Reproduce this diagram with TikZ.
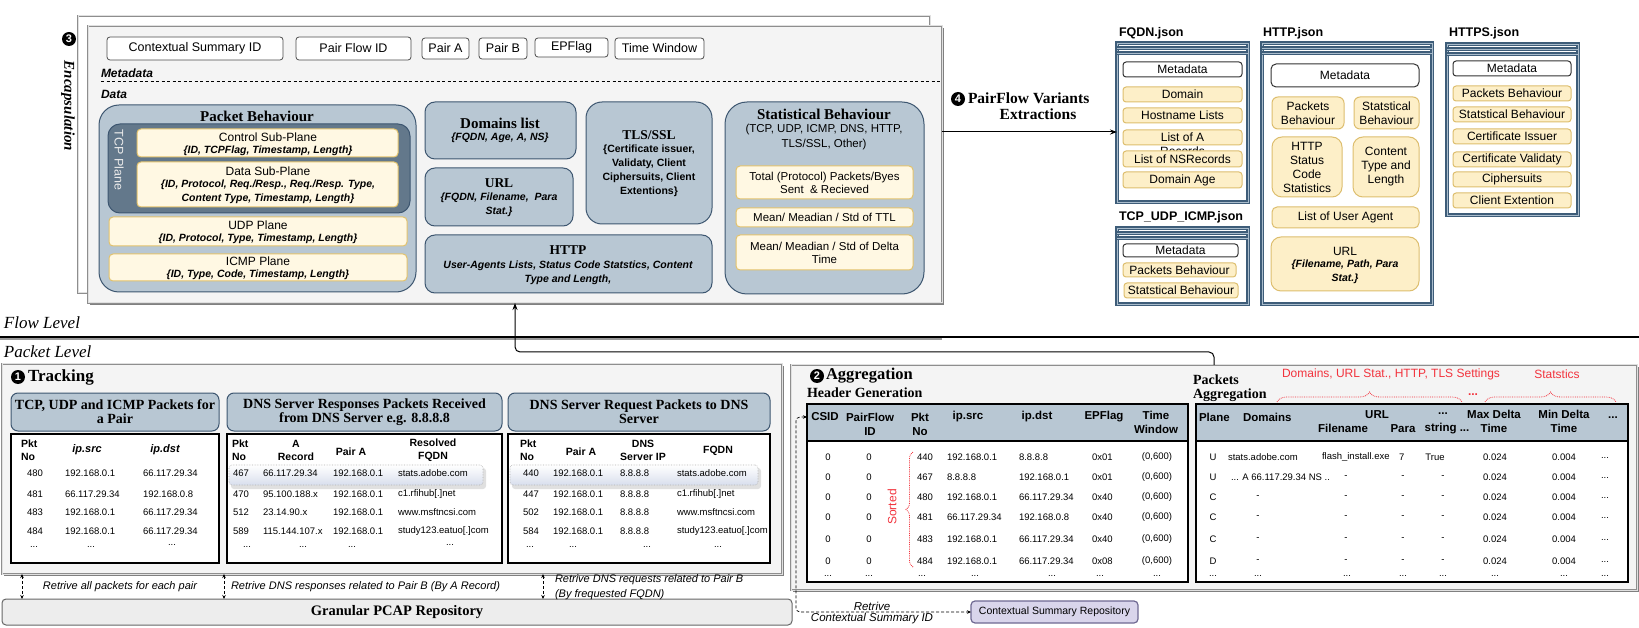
\documentclass[tikz,border=0pt]{standalone}
\usepackage{fontspec}
\setmainfont{Liberation Serif}
\setsansfont{Liberation Sans}
\usetikzlibrary{arrows.meta,decorations.pathreplacing}

\definecolor{bluegray}{HTML}{B8C7D3}
\definecolor{blueedge}{HTML}{3D5670}
\definecolor{tcpdark}{HTML}{63788B}
\definecolor{creamfill}{HTML}{FFF8E3}
\definecolor{creamedge}{HTML}{E2C26C}
\definecolor{itemfill}{HTML}{FDEFC8}
\definecolor{itemedge}{HTML}{DDBE6E}
\definecolor{panelfill}{HTML}{F4F4F4}
\definecolor{paneledge}{HTML}{8E8E8E}
\definecolor{jsonedge}{HTML}{3E5D79}
\definecolor{jsonmid}{HTML}{A9BCCC}
\definecolor{notered}{HTML}{F2333D}
\definecolor{lavfill}{HTML}{D9D5EB}
\definecolor{lavedge}{HTML}{6F6992}
\definecolor{repofill}{HTML}{EDEDED}

\newcommand\fz[2]{\fontsize{#1}{#2}\selectfont}
\newcommand\tksb{\rmfamily\bfseries}
\newcommand\tkbi{\sffamily\bfseries\itshape}
\newcommand\tkss{\sffamily}
% box node from corner (x1,y1) to (x2,y2): \bx[style]{name}{x1}{y1}{x2}{y2}{text}
\newcommand\bx[7][]{\node[#1,minimum width={(#5)-(#3)},minimum height={(#6)-(#4)}] (#2) at ({((#3)+(#5))/2},{((#4)+(#6))/2}) {#7};}

\tikzset{
  paneldouble/.style={draw=paneledge,double=black!12,double distance=1pt,line width=0.9pt},
  metabox/.style={draw=black!70,fill=white,rounded corners=3pt,line width=0.8pt,font=\tkss\fz{12.5}{14}},
  bluebox/.style={draw=blueedge,fill=bluegray,line width=1pt},
  tcpbox/.style={draw=blueedge,fill=tcpdark,line width=1pt,rounded corners=12pt},
  creambox/.style={draw=creamedge,fill=creamfill,line width=1pt,rounded corners=4pt},
  jsonbox/.style={draw=jsonedge,double=jsonmid,double distance=0.9pt,line width=1.2pt},
  itembox/.style={draw=itemedge,fill=itemfill,line width=1pt,rounded corners=3pt,font=\tkss\fz{12}{14},align=center},
  jmeta/.style={draw=black!80,fill=white,line width=1pt,rounded corners=3pt,font=\tkss\fz{12}{14}},
  hdbox/.style={draw=blueedge,fill=bluegray,line width=1pt,rounded corners=7pt,font=\tksb\fz{14}{14},align=center},
  tblbox/.style={draw=black,fill=white,line width=1.3pt},
  band/.style={draw=black,fill=bluegray,line width=1.3pt},
  hl/.style={rounded corners=3pt,top color=white,bottom color=blue!8!bluegray!45,draw=black!30,densely dotted,line width=0.6pt},
  hlshadow/.style={rounded corners=3pt,fill=black!12},
  cell/.style={font=\tkss\fz{9.5}{11}},
  colhd/.style={font=\tkss\bfseries\fz{10.5}{13},align=center},
  aghd/.style={font=\tkss\bfseries\fz{11.5}{14},align=center},
  sub/.style={font=\tkbi\fz{10.5}{14},align=center},
  plain/.style={font=\tkss\fz{12}{14},align=center},
  numc/.style={circle,fill=black,text=white,minimum size=14pt,font=\tkss\bfseries\fz{11}{11}},
  retr/.style={densely dashed,line width=0.7pt,{Stealth[length=4pt,width=3.5pt]}-{Stealth[length=4pt,width=3.5pt]}},
  retlab/.style={font=\tkss\itshape\fz{11}{15.5},align=left},
  redbrace/.style={draw=notered,densely dotted,line width=0.8pt,decorate,decoration={brace,amplitude=10pt}},
  redtxt/.style={text=notered,font=\tkss\fz{12}{14}},
}

\begin{document}
\begin{tikzpicture}[x=1pt,y=-1pt,every node/.style={inner sep=0pt,outer sep=0pt}]
\useasboundingbox (0,0) rectangle (1639,628);
\fill[white] (0,0) rectangle (1639,628);

% ===================== Flow level: encapsulation =====================
\bx[paneldouble,fill=white]{backframe}{78}{16}{930}{293}{}
\fill[black!50] (90,28) rectangle (944,305);
\bx[paneldouble,fill=panelfill]{encap}{88}{26}{942}{303}{}

\node[numc] (n3) at (69,39) {3};
\node[rotate=-90,font=\tksb\itshape\fz{15}{15}] (enclab) at (68,106) {Encapsulation};

% metadata fields
\bx[metabox]{csid}{107}{37}{283}{60}{Contextual Summary ID}
\bx[metabox]{pfid}{296}{37}{411}{60}{Pair Flow ID}
\bx[metabox]{paira}{422}{38}{469}{59}{Pair A}
\bx[metabox]{pairb}{479}{38}{527}{59}{Pair B}
\bx[metabox]{epf}{535}{38}{608}{57}{EPFlag}
\bx[metabox]{twin}{615}{38}{704}{59}{Time Window}
\node[anchor=west,font=\tkbi\fz{12}{12}] (mdlab) at (101,73) {Metadata};
\draw[dash pattern=on 3pt off 2.5pt,line width=0.8pt] (mdlab.south west |- 0,81) coordinate (dl) -- (encap.east |- dl);
\node[anchor=west,font=\tkbi\fz{12}{12}] (dlab) at (101,94) {Data};

% packet behaviour
\bx[bluebox,rounded corners=20pt]{pbeh}{99}{105}{416}{292}{}
\node[font=\tksb\fz{15}{15}] (pbehlab) at (257,116) {Packet Behaviour};
\bx[tcpbox]{tcp}{108}{124}{410}{213}{}
\node[rotate=-90,text=black!8,font=\tkss\fz{12.5}{14}] (tcplab) at (119,160) {TCP Plane};
\bx[creambox]{ctrl}{137}{129}{398}{157}{}
\node[plain] (ctrl1) at (268,137) {Control Sub-Plane};
\node[sub] (ctrl2) at (268,151) {\{ID, TCPFlag, Timestamp, Length\}};
\bx[creambox]{dsp}{137}{162}{398}{207}{}
\node[plain] (dsp1) at (268,171) {Data Sub-Plane};
\node[sub] (dsp2) at (268,192) {\{ID, Protocol, Req./Resp., Req./Resp. Type,\\Content Type, Timestamp, Length\}};
\bx[creambox]{udp}{109}{217}{407}{246}{}
\node[plain] (udp1) at (258,225) {UDP Plane};
\node[sub] (udp2) at (258,239) {\{ID, Protocol, Type, Timestamp, Length\}};
\bx[creambox]{icmp}{109}{254}{407}{281}{}
\node[plain] (icmp1) at (258,261) {ICMP Plane};
\node[sub] (icmp2) at (258,275) {\{ID, Type, Code, Timestamp, Length\}};

% domains, URL, TLS, HTTP
\bx[bluebox,rounded corners=10pt]{doml}{425}{102}{576}{159}{}
\node[font=\tksb\fz{15}{15}] (doml1) at (500,123) {Domains list};
\node[sub] (doml2) at (500,138) {\{FQDN, Age, A, NS\}};
\bx[bluebox,rounded corners=10pt]{urlb}{425}{168}{573}{226}{}
\node[font=\tksb\fz{13.5}{14}] (url1) at (499,183) {URL};
\node[sub] (url2) at (499,205) {\{FQDN, Filename,\ \ Para\\Stat.\}};
\bx[bluebox,rounded corners=16pt]{tls}{586}{102}{712}{224}{}
\node[font=\tksb\fz{13.5}{14}] (tls1) at (649,135) {TLS/SSL};
\node[font=\tkss\bfseries\fz{10.5}{14},align=center] (tls2) at (649,171) {\{Certificate issuer,\\Validaty, Client\\Ciphersuits, Client\\Extentions\}};
\bx[bluebox,rounded corners=10pt]{httpb}{425}{235}{712}{293}{}
\node[font=\tksb\fz{13.5}{14}] (http1) at (568,250) {HTTP};
\node[font=\tkbi\fz{10.5}{14},align=center] (http2) at (568,273) {User-Agents Lists, Status Code Statstics, Content\\Type and Length,};

% statistical behaviour
\bx[bluebox,rounded corners=22pt]{stat}{725}{102}{924}{294}{}
\node[font=\tksb\fz{15}{15}] (stat1) at (824,114) {Statistical Behaviour};
\node[font=\tkss\fz{11.5}{15},align=center] (stat2) at (824,137) {(TCP, UDP, ICMP, DNS, HTTP,\\TLS/SSL, Other)};
\bx[creambox,font=\tkss\fz{11.5}{13},align=center]{stata}{736}{166}{913}{199}{Total (Protocol) Packets/Byes\\Sent \ \& Recieved}
\bx[creambox,font=\tkss\fz{11.5}{13},align=center]{statb}{736}{208}{913}{227}{Mean/ Meadian / Std of TTL}
\bx[creambox,font=\tkss\fz{11.5}{13},align=center]{statc}{736}{235}{913}{270}{Mean/ Meadian / Std of Delta\\Time}

% ===================== PairFlow variants (JSON) =====================
% FQDN.json
\node[anchor=west,font=\tkss\bfseries\fz{12.5}{14}] (fqt) at (1119,33) {FQDN.json};
\bx[jsonbox]{fqdn}{1117}{43}{1248}{202}{}
\draw[jsonbox] ([yshift=-5pt]fqdn.north west) -- ([yshift=-5pt]fqdn.north east);
\draw[jsonbox] ([yshift=-10pt]fqdn.north west) -- ([yshift=-10pt]fqdn.north east);
\bx[jmeta]{fqmeta}{1123}{62}{1242}{77}{Metadata}
\bx[itembox]{fqdom}{1123}{87}{1242}{102}{Domain}
\bx[itembox]{fqhost}{1123}{108}{1242}{123}{Hostname Lists}
\bx[itembox]{fqa}{1123}{130}{1242}{145}{}
\node[font=\tkss\fz{12}{14},align=center] (fqatxt) at (1182.5,144) {List of A\\Records};
\bx[itembox]{fqns}{1123}{151}{1242}{167}{List of NSRecords}
\bx[itembox]{fqage}{1123}{172}{1242}{188}{Domain Age}

% TCP_UDP_ICMP.json
\node[anchor=west,font=\tkss\bfseries\fz{12.5}{14}] (tut) at (1119,217) {TCP\_UDP\_ICMP.json};
\bx[jsonbox]{tui}{1117}{228}{1248}{304}{}
\draw[jsonbox] ([yshift=-5pt]tui.north west) -- ([yshift=-5pt]tui.north east);
\draw[jsonbox] ([yshift=-10pt]tui.north west) -- ([yshift=-10pt]tui.north east);
\bx[jmeta]{tuimeta}{1123}{244}{1238}{257}{Metadata}
\bx[itembox]{tuipb}{1123}{263}{1236}{277}{Packets Behaviour}
\bx[itembox]{tuisb}{1124}{283}{1238}{298}{Statstical Behaviour}

% HTTP.json
\node[anchor=west,font=\tkss\bfseries\fz{12.5}{14}] (htt) at (1263,33) {HTTP.json};
\bx[jsonbox]{httpj}{1262}{43}{1432}{304}{}
\draw[jsonbox] ([yshift=-5pt]httpj.north west) -- ([yshift=-5pt]httpj.north east);
\draw[jsonbox] ([yshift=-10pt]httpj.north west) -- ([yshift=-10pt]httpj.north east);
\bx[jmeta,rounded corners=5pt]{htmeta}{1271}{64}{1419}{87}{Metadata}
\bx[itembox,rounded corners=6pt]{htpb}{1272}{97}{1344}{129}{Packets\\Behaviour}
\bx[itembox,rounded corners=6pt]{htsb}{1354}{97}{1419}{129}{Statstical\\Behaviour}
\bx[itembox,rounded corners=10pt]{htsc}{1272}{137}{1342}{197}{HTTP\\Status\\Code\\Statistics}
\bx[itembox,rounded corners=10pt]{htct}{1353}{137}{1419}{197}{Content\\Type and\\Length}
\bx[itembox,rounded corners=5pt]{htua}{1272}{207}{1419}{228}{List of User Agent}
\bx[itembox,rounded corners=10pt]{hturl}{1271}{237}{1419}{291}{}
\node[plain] (hturl1) at (1345,251) {URL};
\node[sub] (hturl2) at (1345,272) {\{Filename, Path, Para\\Stat.\}};

% HTTPS.json
\node[anchor=west,font=\tkss\bfseries\fz{12.5}{14}] (hst) at (1449,33) {HTTPS.json};
\bx[jsonbox]{httpsj}{1447}{44}{1578}{215}{}
\draw[jsonbox] ([yshift=-5pt]httpsj.north west) -- ([yshift=-5pt]httpsj.north east);
\draw[jsonbox] ([yshift=-10pt]httpsj.north west) -- ([yshift=-10pt]httpsj.north east);
\bx[jmeta]{hsmeta}{1453}{61}{1571}{76}{Metadata}
\bx[itembox]{hspb}{1453}{86}{1571}{101}{Packets Behaviour}
\bx[itembox]{hssb}{1453}{107}{1571}{122}{Statstical Behaviour}
\bx[itembox]{hsci}{1453}{129}{1571}{144}{Certificate Issuer}
\bx[itembox]{hscv}{1453}{152}{1571}{167}{Certificate Validaty}
\bx[itembox]{hscs}{1453}{172}{1571}{187}{Ciphersuits}
\bx[itembox]{hsce}{1453}{193}{1571}{208}{Client Extention}

% extraction arrow
\coordinate (ax) at (945,132);
\draw[line width=1pt,-{Stealth[length=7pt,width=5pt]}] (encap.east |- ax) -- (fqdn.west |- ax);
\node[numc] (n4) at (958,99) {4};
\node[anchor=west,font=\tksb\fz{15.5}{16}] (ext1) at (968,98) {PairFlow Variants};
\node[font=\tksb\fz{15.5}{16}] (ext2) at (1038,114) {Extractions};

% ===================== level separator =====================
\node[anchor=west,font=\rmfamily\itshape\fz{17}{17}] (flowlab) at (4,323) {Flow Level};
\draw[black!40,line width=2pt] (0,339.5) -- (942,339.5);
\draw[black,line width=1.2pt] (0,337) -- (1639,337);
\node[anchor=west,font=\rmfamily\itshape\fz{17}{17}] (pktlab) at (4,352) {Packet Level};

% ===================== Packet level: tracking =====================
\fill[black!50] (4,366) rectangle (784,576);
\bx[paneldouble,fill=panelfill]{track}{2}{364}{782}{574}{}
\node[numc] (n1) at (18,377) {1};
\node[anchor=west,font=\tksb\fz{17}{17}] (tracklab) at (28,377) {Tracking};

\bx[hdbox]{h1}{11}{393}{219}{431}{TCP, UDP and ICMP Packets for\\a Pair}
\bx[hdbox]{h2}{227}{393}{502}{431}{DNS Server Responses Packets Received\\from DNS Server e.g. 8.8.8.8}
\bx[hdbox]{h3}{508}{393}{770}{431}{DNS Server Request Packets to DNS\\Server}
\bx[tblbox]{t1}{11}{434}{219}{563}{}
\bx[tblbox]{t2}{227}{434}{502}{563}{}
\bx[tblbox]{t3}{508}{434}{770}{563}{}
\bx[hlshadow]{hl2s}{231}{468}{486}{489}{}
\bx[hlshadow]{hl3s}{512}{468}{761}{489}{}
\bx[hl]{hl2}{229}{465}{483}{485}{}
\bx[hl]{hl3}{510}{465}{758}{485}{}

% table 1
\node[colhd,align=left,anchor=west] (t1h1) at (21,450) {Pkt\\No};
\node[font=\tkbi\fz{11}{13}] (t1h2) at (87,450) {ip.src};
\node[font=\tkbi\fz{11}{13}] (t1h3) at (165,450) {ip.dst};
\foreach \yy/\a/\b/\c [count=\i] in {473/480/192.168.0.1/66.117.29.34,494/481/66.117.29.34/192.168.0.8,512/483/192.168.0.1/66.117.29.34,531/484/192.168.0.1/66.117.29.34}{
  \node[cell] (t1p\i) at (35,\yy) {\a};
  \node[cell,anchor=west] (t1s\i) at (65,\yy) {\b};
  \node[cell,anchor=west] (t1d\i) at (143,\yy) {\c};
}
\node[cell] (t1x1) at (34,547) {...};
\node[cell] (t1x2) at (91,547) {...};
\node[cell] (t1x3) at (172,545) {...};

% table 2
\node[colhd,align=left,anchor=west] (t2h1) at (232,450) {Pkt\\No};
\node[colhd] (t2h2) at (296,450) {A\\Record};
\node[colhd] (t2h3) at (351,452) {Pair A};
\node[colhd] (t2h4) at (433,450) {Resolved\\FQDN};
\foreach \yy/\a/\b/\c/\d [count=\i] in {473/467/66.117.29.34/192.168.0.1/stats.adobe.com,494/470/95.100.188.x/192.168.0.1/{c1.rfihub[.]net},512/512/23.14.90.x/192.168.0.1/www.msftncsi.com,531/589/115.144.107.x/192.168.0.1/{study123.eatuo[.]com}}{
  \node[cell,anchor=west] (t2p\i) at (233,\yy) {\a};
  \node[cell,anchor=west] (t2a\i) at (263,\yy) {\b};
  \node[cell,anchor=west] (t2b\i) at (333,\yy) {\c};
  \node[cell,anchor=west] (t2f\i) at (398,\yy) {\d};
}
\node[cell] (t2x1) at (247,547) {...};
\node[cell] (t2x2) at (303,547) {...};
\node[cell] (t2x3) at (352,547) {...};
\node[cell] (t2x4) at (450,545) {...};

% table 3
\node[colhd,align=left,anchor=west] (t3h1) at (520,450) {Pkt\\No};
\node[colhd] (t3h2) at (581,452) {Pair A};
\node[colhd] (t3h3) at (643,450) {DNS\\Server IP};
\node[colhd] (t3h4) at (718,451) {FQDN};
\foreach \yy/\a/\d [count=\i] in {473/440/stats.adobe.com,494/447/{c1.rfihub[.]net},512/502/www.msftncsi.com,531/584/{study123.eatuo[.]com}}{
  \node[cell,anchor=west] (t3p\i) at (523,\yy) {\a};
  \node[cell,anchor=west] (t3a\i) at (553,\yy) {192.168.0.1};
  \node[cell,anchor=west] (t3s\i) at (620,\yy) {8.8.8.8};
  \node[cell,anchor=west] (t3f\i) at (677,\yy) {\d};
}
\node[cell] (t3x1) at (530,547) {...};
\node[cell] (t3x2) at (573,547) {...};
\node[cell] (t3x3) at (647,547) {...};
\node[cell] (t3x4) at (718,547) {...};

% repository and retrieval links
\bx[draw=black!60,fill=repofill,rounded corners=4pt,line width=1pt]{repo}{2}{599}{792}{625}{}
\node[font=\tksb\fz{14.5}{15}] (repolab) at (397,612) {Granular PCAP Repository};
\coordinate (rA) at (22,0);
\coordinate (rB) at (224,0);
\coordinate (rC) at (543,0);
\draw[retr] (track.south -| rA) -- (repo.north -| rA);
\draw[retr] (track.south -| rB) -- (repo.north -| rB);
\draw[retr] (track.south -| rC) -- (repo.north -| rC);
\node[retlab] (rl1) at (120,587) {Retrive all packets for each pair};
\node[retlab,anchor=west] (rl2) at (231,587) {Retrive DNS responses related to Pair B (By A Record)};
\node[retlab,anchor=west] (rl3) at (555,587) {Retrive DNS requests related to Pair B\\ (By frequested FQDN)};

% ===================== Packet level: aggregation =====================
\fill[black!50] (793,367) rectangle (1639,592);
\bx[paneldouble,fill=panelfill]{agg}{791}{365}{1637}{590}{}
\node[numc] (n2) at (817,376) {2};
\node[anchor=west,font=\tksb\fz{16.5}{17}] (agglab) at (826,376) {Aggregation};
\node[anchor=west,font=\tksb\fz{14}{14}] (hglab) at (807,393) {Header Generation};

% header generation table
\bx[tblbox]{hg}{807}{404}{1188}{582}{}
\bx[band]{hgband}{807}{404}{1188}{441}{}
\node[aghd] (hgh1) at (825,417) {CSID};
\node[aghd] (hgh2) at (870,424) {PairFlow\\ID};
\node[aghd] (hgh3) at (920,424) {Pkt\\No};
\node[aghd] (hgh4) at (968,417) {ip.src};
\node[aghd] (hgh5) at (1037,417) {ip.dst};
\node[aghd] (hgh6) at (1104,417) {EPFlag};
\node[aghd] (hgh7) at (1156,422) {Time\\Window};
\foreach \yy/\p/\s/\d/\f [count=\i] in {457/440/192.168.0.1/8.8.8.8/0x01,477/467/8.8.8.8/192.168.0.1/0x01,497/480/192.168.0.1/66.117.29.34/0x40,517/481/66.117.29.34/192.168.0.8/0x40,539/483/192.168.0.1/66.117.29.34/0x40,561/484/192.168.0.1/66.117.29.34/0x08}{
  \node[cell] (hgc\i) at (828,\yy) {0};
  \node[cell] (hgf\i) at (869,\yy) {0};
  \node[cell,anchor=west] (hgp\i) at (917,\yy) {\p};
  \node[cell,anchor=west] (hgs\i) at (947,\yy) {\s};
  \node[cell,anchor=west] (hgd\i) at (1019,\yy) {\d};
  \node[cell,anchor=west] (hge\i) at (1092,\yy) {\f};
  \node[cell] (hgw\i) at (1157,\yy) {(0,600)};
}
\foreach \xx [count=\i] in {828,869,922,975,1052,1100,1157}{
  \node[cell] (hgx\i) at (\xx,576) {...};
}
\draw[redbrace,decoration={brace,amplitude=7pt}] (913,567) -- (913,452);
\node[rotate=90,text=notered,font=\tkss\fz{12}{14}] (sortlab) at (892,507) {Sorted};

% packets aggregation table
\node[anchor=west,font=\tksb\fz{14}{13.5},align=left] (palab) at (1193,388) {Packets\\Aggregation};
\bx[tblbox]{pat}{1196}{404}{1628}{582}{}
\bx[band]{paband}{1196}{404}{1628}{441}{}
\node[aghd,anchor=west] (pah1) at (1199,417) {Plane};
\node[aghd,anchor=west] (pah2) at (1243,417) {Domains};
\node[aghd] (pah3) at (1377,415) {URL};
\node[aghd] (pah4) at (1343,428) {Filename};
\node[aghd] (pah5) at (1403,429) {Para};
\node[aghd] (pah6) at (1443,414) {...};
\node[aghd] (pah7) at (1447,429) {string ...};
\node[aghd] (pah8) at (1494,421) {Max Delta\\Time};
\node[aghd] (pah9) at (1564,421) {Min Delta\\Time};
\node[aghd] (pah10) at (1613,418) {...};
\node[cell] (par1a) at (1213,457) {U};
\node[cell,anchor=west] (par1b) at (1228,457) {stats.adobe.com};
\node[cell,anchor=west] (par1c) at (1322,457) {flash\_install.exe};
\node[cell,anchor=west] (par1d) at (1399,457) {7};
\node[cell] (par1e) at (1435,457) {True};
\node[cell] (par2a) at (1213,477) {U};
\node[cell,anchor=west] (par2b) at (1231,477) {... A 66.117.29.34 NS ..};
\foreach \yy/\pl [count=\i] in {477/U,497/C,517/C,539/C,561/D}{
  \ifnum\i>1
    \node[cell] (parp\i) at (1213,\yy) {\pl};
    \node[cell] (pard\i) at (1258,\yy) {-};
  \fi
  \node[cell] (parf\i) at (1346,\yy) {-};
  \node[cell] (parq\i) at (1403,\yy) {-};
  \node[cell] (pars\i) at (1443,\yy) {-};
}
\foreach \yy [count=\i] in {457,477,497,517,539,561}{
  \node[cell] (parmx\i) at (1495,\yy) {0.024};
  \node[cell] (parmn\i) at (1564,\yy) {0.004};
  \node[cell] (pare\i) at (1605,\yy+1) {...};
}
\foreach \xx [count=\i] in {1213,1258,1347,1403,1443,1495,1564,1605}{
  \node[cell] (pax\i) at (\xx,576) {...};
}
% field group annotations
\draw[redbrace] (1277,402) -- (1462,402);
\node[redtxt] (grp1) at (1391,374) {Domains, URL Stat., HTTP, TLS Settings};
\node[text=notered,font=\tkss\bfseries\fz{12}{12}] (grpdots) at (1473,395) {...};
\draw[redbrace] (1485,402) -- (1616,402);
\node[redtxt] (grp2) at (1557,374) {Statstics};

% contextual summary repository
\bx[draw=lavedge,fill=lavfill,rounded corners=4pt,line width=1.2pt,font=\tkss\fz{10.5}{12}]{csr}{971}{601}{1138}{623}{Contextual Summary Repository}
\coordinate (ct) at (796,417);
\coordinate (cb) at (796,612);
\draw[retr,rounded corners=4pt] (hg.west |- ct) -- (ct) -- (cb) -- (csr.west |- cb);
\node[font=\tkss\itshape\fz{11.5}{13}] (csl1) at (872,606) {Retrive};
\node[font=\tkss\itshape\fz{11.5}{13}] (csl2) at (872,619) {Contextual Summary ID};

% aggregation output feeds the encapsulation stage
\coordinate (up1) at (1214,352);
\coordinate (up2) at (515,352);
\draw[line width=1pt,rounded corners=5pt,-{Stealth[length=7pt,width=5pt]}] (agg.north -| up1) -- (up1) -- (up2) -- (encap.south -| up2);

\end{tikzpicture}
\end{document}
